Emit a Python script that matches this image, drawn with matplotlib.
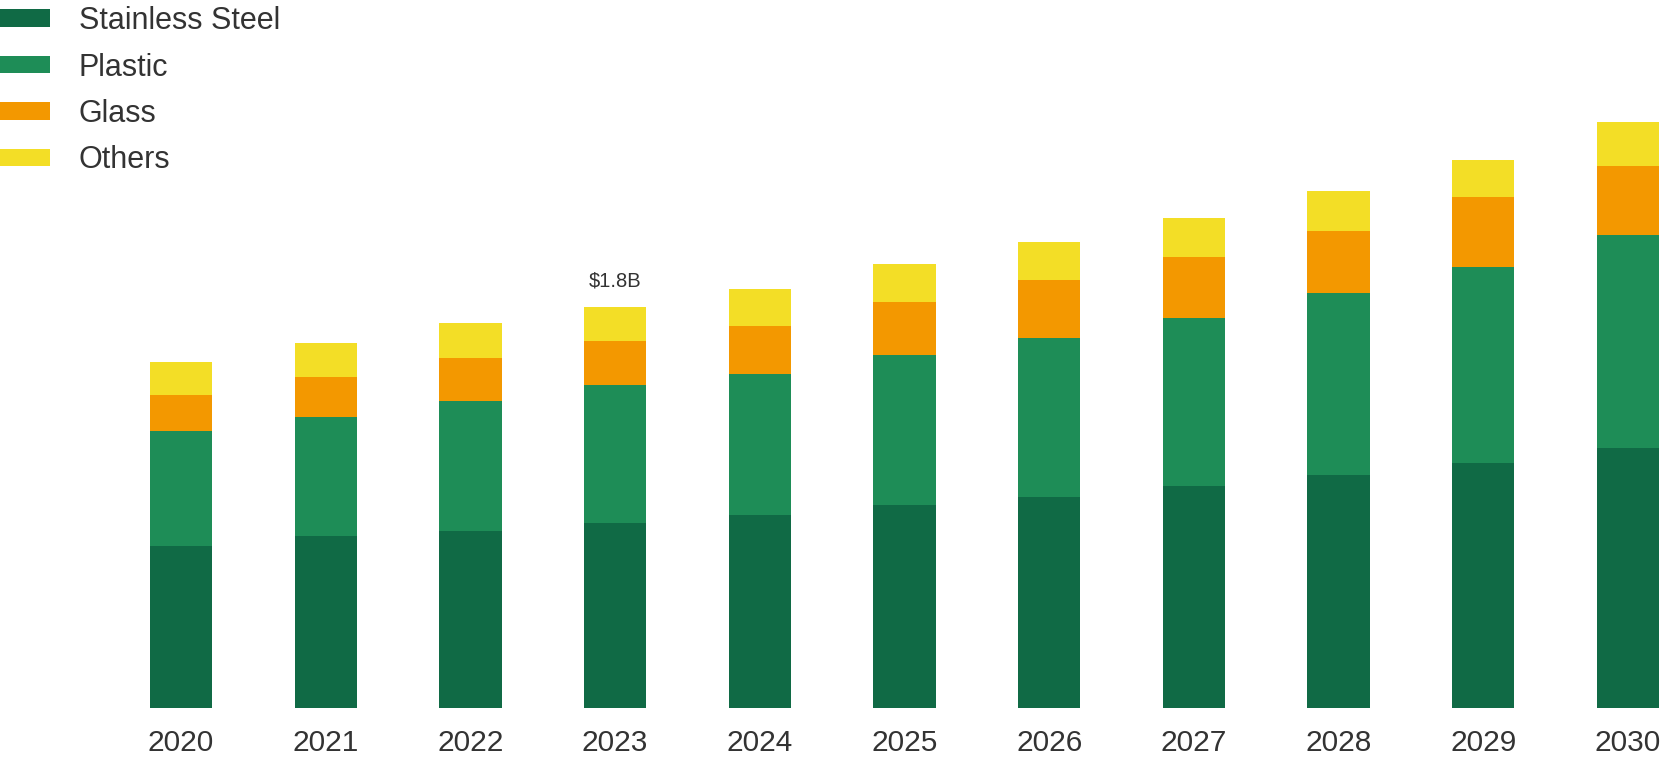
import numpy as np
import matplotlib
matplotlib.use("Agg")
import matplotlib.pyplot as plt

# Market size by material, USD billions
years = ["2020", "2021", "2022", "2023", "2024", "2025",
         "2026", "2027", "2028", "2029", "2030"]
stainless_steel = [0.726, 0.772, 0.794, 0.829, 0.868, 0.911,
                   0.947, 0.996, 1.046, 1.100, 1.168]
plastic = [0.518, 0.535, 0.583, 0.621, 0.633, 0.675,
           0.714, 0.754, 0.816, 0.878, 0.956]
glass = [0.162, 0.178, 0.194, 0.199, 0.215, 0.238,
         0.262, 0.275, 0.280, 0.317, 0.308]
others = [0.149, 0.153, 0.159, 0.151, 0.165, 0.169,
          0.169, 0.175, 0.180, 0.165, 0.196]

series = [
    ("Stainless Steel", stainless_steel, "#106a45"),
    ("Plastic", plastic, "#1e8d57"),
    ("Glass", glass, "#f39800"),
    ("Others", others, "#f3de26"),
]

highlight_year = "2023"
text_color = "#333333"

plt.rcParams["font.family"] = ["Liberation Sans", "DejaVu Sans"]

fig = plt.figure(figsize=(16.62, 7.68), dpi=100)
ax = fig.add_axes([0, 60 / 768, 1, 708 / 768])

x = np.arange(len(years))
bottom = np.zeros(len(years))
for name, values, color in series:
    ax.bar(x, values, width=0.43, bottom=bottom, color=color,
           label=name, edgecolor="none")
    bottom += np.array(values)

# total label above the highlighted year
i = years.index(highlight_year)
ax.annotate(f"${bottom[i]:.1f}B", (x[i], bottom[i]), xytext=(0, 12),
            textcoords="offset points", ha="center", va="bottom",
            fontsize=14.5, color=text_color)

ax.set_xlim(-181 / 144.7, (1662 - 181) / 144.7)
ax.set_ylim(0, 708 / 222.8)
ax.set_xticks(x)
ax.set_xticklabels(years, fontsize=21.5, color=text_color)
ax.tick_params(axis="x", length=0, pad=15)
ax.set_yticks([])
for spine in ax.spines.values():
    spine.set_visible(False)

leg = ax.legend(loc="upper left", bbox_to_anchor=(0, 1 - 6 / 768),
                bbox_transform=fig.transFigure, frameon=False,
                fontsize=22, handlelength=1.64, handleheight=0.5,
                handletextpad=0.94, labelspacing=0.54, borderaxespad=0,
                borderpad=0)
for t in leg.get_texts():
    t.set_color(text_color)

fig.savefig("out.png", dpi=100)
